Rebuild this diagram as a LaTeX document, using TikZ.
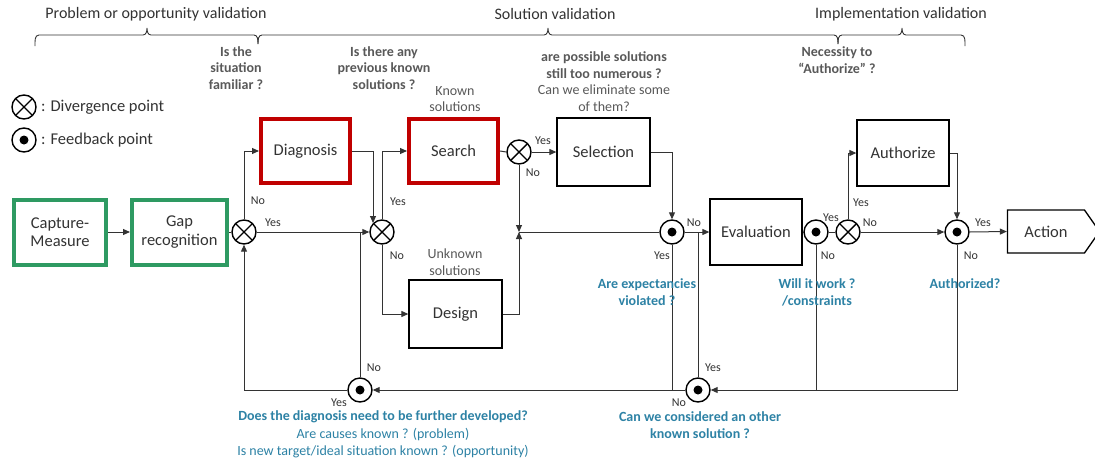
\documentclass[tikz,border=0pt]{standalone}
\usepackage{fontspec}
\setmainfont{Carlito}
\usetikzlibrary{arrows.meta,shapes.symbols,calc}
\definecolor{mygreen}{RGB}{46,154,98}
\definecolor{myred}{RGB}{192,0,0}
\definecolor{myteal}{RGB}{45,130,165}
\definecolor{mygray}{RGB}{89,89,89}
\definecolor{mydark}{RGB}{51,51,51}
\tikzset{
  boxbase/.style={draw, align=center, font=\fontsize{16.5}{18.5}\selectfont, text=mydark, inner sep=0pt},
  plainbox/.style={boxbase, line width=1.3pt},
  greenbox/.style={boxbase, draw=mygreen, line width=4pt},
  redbox/.style={boxbase, draw=myred, line width=4pt},
  divpt/.style={circle, draw, line width=1.4pt, minimum size=24pt, inner sep=0pt,
    path picture={\draw[line width=1.4pt] ([shift={(45:12pt)}]path picture bounding box.center) -- ([shift={(225:12pt)}]path picture bounding box.center);
                  \draw[line width=1.4pt] ([shift={(135:12pt)}]path picture bounding box.center) -- ([shift={(315:12pt)}]path picture bounding box.center);}},
  fbpt/.style={circle, draw, line width=1.4pt, minimum size=24pt, inner sep=0pt,
    path picture={\fill (path picture bounding box.center) circle (4.5pt);}},
  conn/.style={line width=1pt, draw=mydark},
  arr/.style={conn, -{Triangle[length=7pt,width=6pt]}},
  yn/.style={font=\fontsize{12}{13}\selectfont, text=mydark, inner sep=0pt},
  qgray/.style={font=\bfseries\fontsize{14}{16.5}\selectfont, text=mygray, align=center, inner sep=0pt},
  qgrayn/.style={font=\fontsize{14}{16.5}\selectfont, text=mygray, align=center, inner sep=0pt},
  qblue/.style={font=\bfseries\fontsize{14}{17}\selectfont, text=myteal, align=center, inner sep=0pt},
  qbluen/.style={font=\fontsize{14}{17}\selectfont, text=myteal, align=center, inner sep=0pt},
  phase/.style={font=\fontsize{16}{18}\selectfont, text=mydark, inner sep=0pt},
  bracepath/.style={line width=0.9pt, draw=mydark},
  legend/.style={font=\fontsize{16.5}{18}\selectfont, text=mydark, anchor=west, inner sep=0pt}
}
\begin{document}
\begin{tikzpicture}[x=1pt,y=-1pt]
\useasboundingbox[fill=white] (0,0) rectangle (1095,464);

% phase labels and braces
\node[phase] (ph1) at (156,14) {Problem or opportunity validation};
\node[phase] (ph2) at (555,14) {Solution validation};
\node[phase] (ph3) at (901,14) {Implementation validation};
\draw[bracepath] (35,46) to[out=90,in=180] (39,35) -- (143,35) to[out=0,in=-90] (147,28) to[out=-90,in=180] (151,35) -- (254,35) to[out=0,in=90] (258,44);
\draw[bracepath] (258,44) to[out=90,in=180] (262,35) -- (544,35) to[out=0,in=-90] (548,28) to[out=-90,in=180] (552,35) -- (834,35) to[out=0,in=90] (838,44);
\draw[bracepath] (838,44) to[out=90,in=180] (842,35) -- (898,35) to[out=0,in=-90] (902,28) to[out=-90,in=180] (906,35) -- (961,35) to[out=0,in=90] (965,46);

% legend
\node[divpt] (ld) at (24,107) {};
\node[fbpt] (lf) at (24,140) {};
\node[legend] (ldt) at (41,107) {: Divergence point};
\node[legend] (lft) at (41,140) {: Feedback point};

% top questions
\node[qgray] (q1) at (236,68) {Is the\\situation\\familiar ?};
\node[qgray] (q2) at (384,68) {Is there any\\previous known\\solutions ?};
\node[qgrayn] (q3) at (455,99) {Known\\solutions};
\node[qgray] (q4a) at (604,65) {are possible solutions\\still too numerous ?};
\node[qgrayn] (q4b) at (604,98) {Can we eliminate some\\of them?};
\node[qgrayn] (q5) at (455,262) {Unknown\\solutions};
\node[qgray] (q6) at (837,60) {Necessity to\\``Authorize'' ?};

% boxes
\node[greenbox, minimum width=92pt, minimum height=65pt] (cap) at (60,232) {Capture-\\Measure};
\node[greenbox, minimum width=95pt, minimum height=65pt] (gap) at (179.5,232) {Gap\\recognition};
\node[redbox, minimum width=89pt, minimum height=64pt] (diag) at (305.5,151) {Diagnosis};
\node[redbox, minimum width=89pt, minimum height=64pt] (search) at (453.5,151) {Search};
\node[plainbox, minimum width=93pt, minimum height=68pt] (sel) at (603.5,152) {Selection};
\node[plainbox, minimum width=93pt, minimum height=68pt] (design) at (455.5,314) {Design};
\node[plainbox, minimum width=92pt, minimum height=66pt] (eval) at (756,232) {Evaluation};
\node[plainbox, minimum width=92pt, minimum height=66pt] (auth) at (903,153) {Authorize};
\node[plainbox, signal, signal to=east, signal pointer angle=110, minimum width=92pt, minimum height=43pt] (act) at (1046,231.5) {Action};

% divergence / feedback points
\node[divpt] (d1) at (244,232) {};
\node[divpt] (d2) at (382,232) {};
\node[divpt] (d3) at (519,152) {};
\node[divpt] (d4) at (848,232) {};
\node[fbpt] (f1) at (672,232) {};
\node[fbpt] (f2) at (816,232) {};
\node[fbpt] (f3) at (957,232) {};
\node[fbpt] (f4) at (360,390) {};
\node[fbpt] (f5) at (698,390) {};
\coordinate (j) at (519,232);

% connectors
\draw[arr] (cap.east) -- (gap.west);
\draw[conn] (gap.east) -- (d1.west);
\draw[arr] (d1.north) |- (diag.west);
\draw[arr] (d1.east) -- (d2.west);
\draw[arr] (diag.east) -| (d2.north west);
\draw[arr] (d2.north) |- (search.west);
\draw[arr] (d2.south) |- (design.west);
\draw[conn] (search.east) -- (d3.west);
\draw[arr] (d3.east) -- (sel.west);
\draw[arr] (d3.south) -- (j);
\draw[arr] (design.east) -| (j);
\draw[conn] (j) -- (f1.west);
\draw[arr] (sel.east) -| (f1.north);
\draw[arr] (f1.east) -- (eval.west);
\draw[conn] (f1.south) -- (f1.south |- f5.center);
\draw[arr] (f5.west) -- (f4.east);
\draw[conn] (f4.north) -- (f4.north |- d2.center);
\draw[arr] (f4.west) -| (d1.south);
\draw[conn] (f5.north) -- (f5.north |- eval.west);
\draw[conn] (eval.east) -- (f2.west);
\draw[conn] (f2.east) -- (d4.west);
\draw[conn] (f2.south) -- (f2.south |- f5.center);
\draw[arr] (f3.south) |- (f5.east);
\draw[arr] (d4.north) |- (auth.west);
\draw[arr] (d4.east) -- (f3.west);
\draw[arr] (auth.east) -| (f3.north);
\draw[arr] (f3.east) -- (act.west);

% yes / no labels
\node[yn] (l1) at (258,201) {No};
\node[yn] (l2) at (273,223) {Yes};
\node[yn] (l3) at (398,202) {Yes};
\node[yn] (l4) at (397,256) {No};
\node[yn] (l5) at (543,141) {Yes};
\node[yn] (l6) at (533,173) {No};
\node[yn] (l7) at (694,223) {No};
\node[yn] (l8) at (662,256) {Yes};
\node[yn] (l9) at (374,368) {No};
\node[yn] (l10) at (339,403) {Yes};
\node[yn] (l11) at (713,368) {Yes};
\node[yn] (l12) at (679,403) {No};
\node[yn] (l13) at (831,218) {Yes};
\node[yn] (l14) at (828,256) {No};
\node[yn] (l15) at (861,203) {Yes};
\node[yn] (l16) at (870,223) {No};
\node[yn] (l17) at (983,223) {Yes};
\node[yn] (l18) at (971,256) {No};

% blue questions
\node[qblue] (b1) at (647,292) {Are expectancies\\violated ?};
\node[qblue] (b2) at (817,292) {Will it work ?\\/constraints};
\node[qblue] (b3) at (965,284) {Authorized?};
\node[qblue] (b4) at (383,417) {Does the diagnosis need to be further developed?};
\node[qbluen] (b5) at (383,443) {Are causes known ? (problem)\\Is new target/ideal situation known ? (opportunity)};
\node[qblue] (b6) at (700,425) {Can we considered an other\\known solution ?};
\end{tikzpicture}
\end{document}
